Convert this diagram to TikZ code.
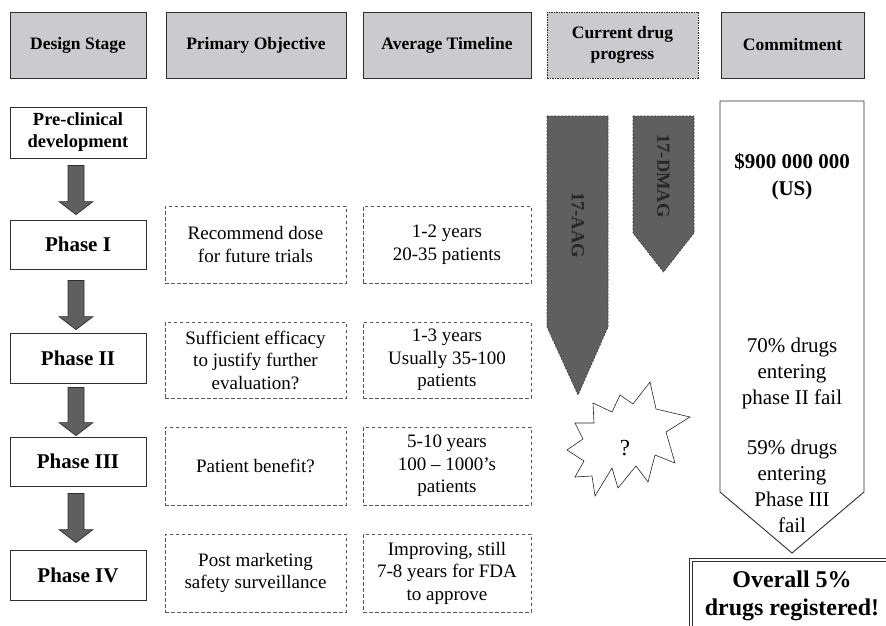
\documentclass[tikz,border=0pt]{standalone}
\usepackage{fontspec}
\setmainfont{Liberation Serif}
\usetikzlibrary{calc}
\definecolor{hdrgray}{HTML}{CBCBCD}
\definecolor{arrgray}{HTML}{5F5F5F}
\definecolor{edgegray}{HTML}{2E2E2E}
\definecolor{dashgray}{HTML}{555555}
\begin{document}
\begin{tikzpicture}[x=1pt,y=-1pt,
  hdr/.style={draw=edgegray, fill=hdrgray, line width=0.9pt, inner sep=0pt,
    minimum height=66pt, align=center,
    font=\fontsize{17.5}{21}\selectfont\bfseries},
  phasebox/.style={draw=edgegray, line width=0.8pt, inner sep=0pt,
    minimum width=136pt, align=center,
    font=\fontsize{21}{23}\selectfont\bfseries},
  dbox/.style={draw=dashgray, line width=0.8pt, dash pattern=on 3.5pt off 2.5pt,
    inner sep=0pt, align=center, font=\fontsize{19}{22.5}\selectfont},
  blockarr/.style={draw=edgegray, fill=arrgray, line width=0.7pt},
  drugarr/.style={draw=black!80, fill=arrgray, line width=0.6pt, dash pattern=on 2pt off 1.5pt},
  drugtxt/.style={rotate=-90, text=black!85, font=\fontsize{18.5}{20}\selectfont\bfseries},
  ctxt/.style={align=center, font=\fontsize{21}{26}\selectfont}
]
\useasboundingbox (0,0) rectangle (886,626);
\clip (0,0) rectangle (886,626);

% headers
\node[hdr, minimum width=136pt] (h1) at (78,45) {Design Stage};
\node[hdr, minimum width=180pt] (h2) at (256,45) {Primary Objective};
\node[hdr, minimum width=168pt] (h3) at (447,45) {Average Timeline};
\node[hdr, minimum width=151pt, dash pattern=on 1.5pt off 1pt] (h4) at (622.5,45) {Current drug\\progress};
\node[hdr, minimum width=143pt] (h5) at (792.5,45) {Commitment};

% phase boxes
\node[phasebox, minimum height=51pt, font=\fontsize{18.5}{22}\selectfont\bfseries] (pre) at (78,132.5) {Pre-clinical\\development};
\node[phasebox, minimum height=49pt] (p1) at (78,244.5) {Phase I};
\node[phasebox, minimum height=50pt] (p2) at (78,358) {Phase II};
\node[phasebox, minimum height=49pt] (p3) at (78,461.5) {Phase III};
\node[phasebox, minimum height=50pt] (p4) at (78,575) {Phase IV};

% block arrows between phases
\newcommand{\blockarrow}[2]{%
  \draw[blockarr] let \p1=(#1), \p2=(#2) in
    (\x1-8pt,\y1) -- (\x1+8pt,\y1) -- (\x1+8pt,\y2+13pt) -- (\x1+17pt,\y2+13pt)
    -- (\x1,\y2) -- (\x1-17pt,\y2+13pt) -- (\x1-8pt,\y2+13pt) -- cycle;}
\coordinate (a1s) at ($(pre.south)+(-2,7)$);
\coordinate (a1e) at ($(p1.north)+(-2,-5)$);
\coordinate (a2s) at ($(p1.south)+(-2,11)$);
\coordinate (a2e) at ($(p2.north)+(-2,-3)$);
\coordinate (a3s) at ($(p2.south)+(-2,4)$);
\coordinate (a3e) at ($(p3.north)+(-2,-1)$);
\coordinate (a4s) at ($(p3.south)+(-2,7)$);
\coordinate (a4e) at ($(p4.north)+(-2,-7)$);
\blockarrow{a1s}{a1e}
\blockarrow{a2s}{a2e}
\blockarrow{a3s}{a3e}
\blockarrow{a4s}{a4e}

% objective boxes
\node[dbox, minimum width=181pt, minimum height=77pt] (o1) at (255.5,244.5) {Recommend dose\\for future trials};
\node[dbox, minimum width=181pt, minimum height=76pt] (o2) at (255.5,360) {Sufficient efficacy\\to justify further\\evaluation?};
\node[dbox, minimum width=181pt, minimum height=78pt] (o3) at (255.5,466) {Patient benefit?};
\node[dbox, minimum width=181pt, minimum height=78pt] (o4) at (255.5,573) {Post marketing\\safety surveillance};

% timeline boxes
\node[dbox, minimum width=168pt, minimum height=77pt] (t1) at (447,244.5) {1-2 years\\20-35 patients};
\node[dbox, minimum width=168pt, minimum height=76pt] (t2) at (447,360) {1-3 years\\Usually 35-100\\patients};
\node[dbox, minimum width=168pt, minimum height=78pt] (t3) at (447,466) {5-10 years\\100 -- 1000's\\patients};
\node[dbox, minimum width=168pt, minimum height=78pt] (t4) at (447,573) {Improving, still\\7-8 years for FDA\\to approve};

% current drug progress arrows
\draw[drugarr] (547,116) -- (608,116) -- (608,327) -- (578,395) -- (547,327) -- cycle;
\node[drugtxt] (aag) at (578,225) {17-AAG};
\draw[drugarr] (633,116) -- (694,116) -- (694,233) -- (663.5,272) -- (633,233) -- cycle;
\node[drugtxt] (dmag) at (663.5,176) {17-DMAG};

% starburst
\draw[draw=black!85, fill=white, line width=0.6pt]
  (650,382) -- (656,409) -- (690,417) -- (666,432) -- (675,463) -- (655,455)
  -- (648,482) -- (636,466) -- (618,488) -- (612,468) -- (595,496) -- (592,476)
  -- (575,477) -- (584,461) -- (567,450) -- (583,439) -- (575,423) -- (594,423)
  -- (593,403) -- (612,412) -- (620,395) -- (633,404) -- cycle;
\node[font=\fontsize{23}{25}\selectfont] (q) at (625,448) {?};

% commitment arrow
\draw[draw=edgegray, fill=white, line width=0.9pt]
  (720,101) -- (864,101) -- (864,492) -- (792,553) -- (720,492) -- cycle;
\node[ctxt, font=\fontsize{21}{27}\selectfont\bfseries] (cost) at (792,176.5) {\$900 000 000\\(US)};
\node[ctxt] (f2) at (792,373) {70\% drugs\\entering\\phase II fail};
\node[ctxt] (f3) at (792,486) {59\% drugs\\entering\\Phase III\\fail};

% overall box
\draw[draw=edgegray, line width=0.8pt, double=white, double distance=2pt] (691,560) rectangle (905,650);
\node[align=center, font=\fontsize{24}{28}\selectfont\bfseries] (overall) at (792,596) {Overall 5\%\\drugs registered!};
\end{tikzpicture}
\end{document}
